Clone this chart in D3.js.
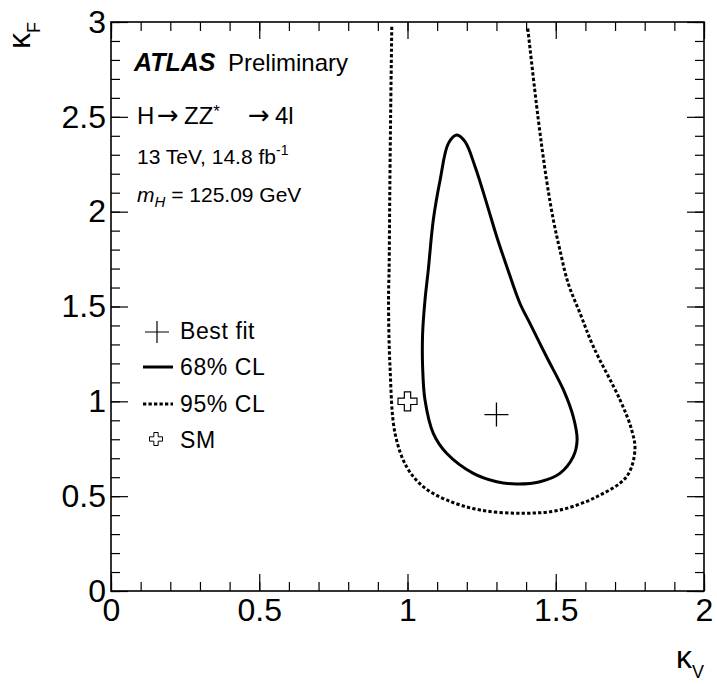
<!DOCTYPE html>
<html>
<head>
<meta charset="utf-8">
<script src="https://cdn.jsdelivr.net/npm/d3@7"></script>
<style>
  body { margin: 0; background: #fff; }
  svg { display: block; font-family: "Liberation Sans", Arial, Helvetica, sans-serif; }
</style>
</head>
<body>
<svg id="chart" width="717" height="684"></svg>
<script>
// axis ticks
const kvMajor = [0, 0.5, 1, 1.5, 2];
const kfMajor = [0, 0.5, 1, 1.5, 2, 2.5, 3];
const kvMinor = d3.range(0, 21).map(i => i / 10);
const kfMinor = d3.range(0, 31).map(i => i / 10);

// best fit and SM points (kV, kF)
const bestFit = [1.30, 0.93];
const smPoint = [1.0, 1.0];

// 68% CL contour (closed)
const cl68 = [
  [1.166, 2.404], [1.194, 2.369], [1.228, 2.237], [1.267, 2.044], [1.301, 1.868],
  [1.335, 1.710], [1.379, 1.517], [1.413, 1.411], [1.469, 1.235], [1.526, 1.060],
  [1.559, 0.919], [1.572, 0.796], [1.559, 0.708], [1.514, 0.620], [1.447, 0.576],
  [1.368, 0.564], [1.301, 0.576], [1.222, 0.620], [1.132, 0.726], [1.087, 0.831],
  [1.059, 1.007], [1.051, 1.182], [1.051, 1.358], [1.059, 1.534], [1.070, 1.692],
  [1.087, 1.956], [1.110, 2.167], [1.138, 2.360]
];

// 95% CL contour (open, leaves through the top)
const cl95 = [
  [0.947, 2.975], [0.943, 2.500], [0.940, 2.060], [0.938, 1.700], [0.936, 1.534],
  [0.941, 1.182], [0.958, 0.831], [0.997, 0.655], [1.053, 0.550], [1.132, 0.480],
  [1.245, 0.427], [1.391, 0.410], [1.514, 0.427], [1.638, 0.497], [1.739, 0.603],
  [1.767, 0.743], [1.756, 0.849], [1.717, 1.007], [1.627, 1.288],
  [1.582, 1.464], [1.542, 1.622], [1.514, 1.798], [1.492, 1.956], [1.469, 2.167],
  [1.440, 2.500], [1.405, 2.975]
];

// legend entries
const legendItems = ["Best fit", "68% CL", "95% CL", "SM"];

const svg = d3.select("#chart");
const x = d3.scaleLinear().domain([0, 2]).range([111, 704]);
const y = d3.scaleLinear().domain([0, 3]).range([591, 22]);

// ---- axes ----
function styleAxis(g) {
  g.select(".domain").remove();
  g.selectAll(".tick line").attr("stroke", "#000").attr("stroke-width", 1.2);
  g.selectAll(".tick text").attr("fill", "#000");
}

// minor ticks
svg.append("g").attr("transform", `translate(0,${y(0)})`)
  .call(d3.axisBottom(x).tickValues(kvMinor).tickSizeInner(-9).tickSizeOuter(0).tickFormat(""))
  .call(styleAxis);
svg.append("g").attr("transform", `translate(0,${y(3)})`)
  .call(d3.axisTop(x).tickValues(kvMinor).tickSizeInner(-9).tickSizeOuter(0).tickFormat(""))
  .call(styleAxis);
svg.append("g").attr("transform", `translate(${x(0)},0)`)
  .call(d3.axisLeft(y).tickValues(kfMinor).tickSizeInner(-9).tickSizeOuter(0).tickFormat(""))
  .call(styleAxis);
svg.append("g").attr("transform", `translate(${x(2)},0)`)
  .call(d3.axisRight(y).tickValues(kfMinor).tickSizeInner(-9).tickSizeOuter(0).tickFormat(""))
  .call(styleAxis);

// major ticks + labels
svg.append("g").attr("transform", `translate(0,${y(0)})`)
  .call(d3.axisBottom(x).tickValues(kvMajor).tickSizeInner(-17).tickSizeOuter(0).tickPadding(7).tickFormat(d3.format("")))
  .call(styleAxis)
  .call(g => g.selectAll(".tick text").attr("font-size", 32).attr("font-family", null));
svg.append("g").attr("transform", `translate(${x(0)},0)`)
  .call(d3.axisLeft(y).tickValues(kfMajor).tickSizeInner(-17).tickSizeOuter(0).tickPadding(5).tickFormat(d3.format("")))
  .call(styleAxis)
  .call(g => g.selectAll(".tick text").attr("font-size", 32).attr("font-family", null));
svg.append("g").attr("transform", `translate(0,${y(3)})`)
  .call(d3.axisTop(x).tickValues(kvMajor).tickSizeInner(-17).tickSizeOuter(0).tickFormat(""))
  .call(styleAxis);
svg.append("g").attr("transform", `translate(${x(2)},0)`)
  .call(d3.axisRight(y).tickValues(kfMajor).tickSizeInner(-17).tickSizeOuter(0).tickFormat(""))
  .call(styleAxis);

// frame
svg.append("rect")
  .attr("x", x(0)).attr("y", y(3))
  .attr("width", x(2) - x(0)).attr("height", y(0) - y(3))
  .attr("fill", "none").attr("stroke", "#000").attr("stroke-width", 1.6);

// axis titles
const xt = svg.append("text").attr("x", x(2)).attr("y", 668).attr("text-anchor", "end").attr("font-size", 32);
xt.append("tspan").text("κ");
xt.append("tspan").attr("font-size", 18).attr("dy", 10).text("V");

const yt = svg.append("text").attr("transform", `translate(30,${y(3)}) rotate(-90)`)
  .attr("text-anchor", "end").attr("font-size", 32);
yt.append("tspan").text("κ");
yt.append("tspan").attr("font-size", 18).attr("dy", 10).text("F");

// ---- contours ----
const line = d3.line().x(d => x(d[0])).y(d => y(d[1]));

svg.append("path")
  .datum(cl95)
  .attr("d", line.curve(d3.curveCatmullRom.alpha(0.5)))
  .attr("fill", "none").attr("stroke", "#000").attr("stroke-width", 3)
  .attr("stroke-dasharray", "3.3,2.2");

svg.append("path")
  .datum(cl68)
  .attr("d", line.curve(d3.curveCatmullRomClosed.alpha(0.5)))
  .attr("fill", "none").attr("stroke", "#000").attr("stroke-width", 3)
  .attr("stroke-linejoin", "round");

// markers
function plusPath(cx, cy, hw, hh) {
  return `M${cx - hw},${cy}H${cx + hw}M${cx},${cy - hh}V${cy + hh}`;
}
function openCross(cx, cy, s) {
  const t = s / 6;
  const pts = [[-t, -3 * t], [t, -3 * t], [t, -t], [3 * t, -t], [3 * t, t], [t, t],
               [t, 3 * t], [-t, 3 * t], [-t, t], [-3 * t, t], [-3 * t, -t], [-t, -t]];
  return "M" + pts.map(p => `${cx + p[0]},${cy + p[1]}`).join("L") + "Z";
}

svg.append("path")
  .attr("d", plusPath(x(bestFit[0]), y(bestFit[1]), 12, 12))
  .attr("stroke", "#000").attr("stroke-width", 1.3).attr("fill", "none");

svg.append("path")
  .attr("d", openCross(x(smPoint[0]), y(smPoint[1]), 19))
  .attr("stroke", "#000").attr("stroke-width", 1.2).attr("fill", "#fff");

// ---- labels ----
svg.append("text").attr("x", 134).attr("y", 71).attr("font-size", 25)
  .attr("font-weight", "bold").attr("font-style", "italic").text("ATLAS");
svg.append("text").attr("x", 228).attr("y", 71).attr("font-size", 24).text("Preliminary");

// ROOT-style spacing around the arrows, arrows from DejaVu (wider glyph)
const decay = svg.append("text").attr("y", 124).attr("font-size", 24);
decay.append("tspan").attr("x", 137).text("H");
decay.append("tspan").attr("x", 157).attr("font-family", "DejaVu Sans").attr("font-size", 26).text("→");
decay.append("tspan").attr("x", 184).text("ZZ");
decay.append("tspan").attr("font-size", 17).attr("dy", -7).text("*");
decay.append("tspan").attr("x", 248).attr("dy", 7).attr("font-family", "DejaVu Sans").attr("font-size", 26).text("→");
decay.append("tspan").attr("x", 275).text("4l");

const lumi = svg.append("text").attr("x", 137).attr("y", 164).attr("font-size", 21);
lumi.append("tspan").text("13 TeV, 14.8 fb");
lumi.append("tspan").attr("font-size", 14).attr("dy", -9).text("-1");

const mass = svg.append("text").attr("x", 137).attr("y", 202).attr("font-size", 21);
mass.append("tspan").attr("font-style", "italic").text("m");
mass.append("tspan").attr("font-style", "italic").attr("font-size", 15).attr("dy", 5).text("H");
mass.append("tspan").attr("dy", -5).text(" = 125.09 GeV");

// ---- legend ----
const legY = [339, 375, 412, 448];
const leg = svg.append("g");
leg.selectAll("text").data(legendItems).join("text")
  .attr("x", 180).attr("y", (d, i) => legY[i]).attr("font-size", 23)
  .attr("letter-spacing", 0.6).text(d => d);

leg.append("path").attr("d", plusPath(157, legY[0] - 7, 12, 11))
  .attr("stroke", "#000").attr("stroke-width", 1.2).attr("fill", "none");
leg.append("line").attr("x1", 143).attr("x2", 173).attr("y1", legY[1] - 8).attr("y2", legY[1] - 8)
  .attr("stroke", "#000").attr("stroke-width", 3);
leg.append("line").attr("x1", 143).attr("x2", 173).attr("y1", legY[2] - 8).attr("y2", legY[2] - 8)
  .attr("stroke", "#000").attr("stroke-width", 3).attr("stroke-dasharray", "3.3,2.2");
leg.append("path").attr("d", openCross(156, legY[3] - 9, 13))
  .attr("stroke", "#000").attr("stroke-width", 1).attr("fill", "#fff");
</script>
</body>
</html>
